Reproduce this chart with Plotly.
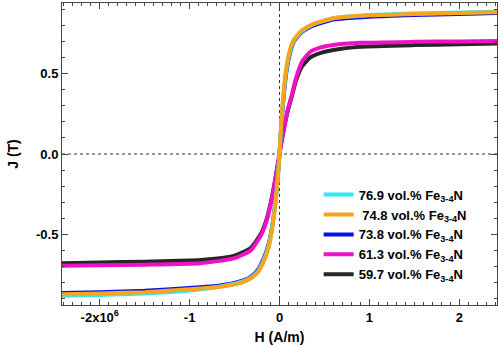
import plotly.graph_objects as go

# H in A/m, J in T
H_hi = [-2.45e6, -2.0e6, -1.5e6, -1.0e6, -0.66e6, -0.45e6, -0.32e6, -0.24e6, -0.18e6, -0.12e6, -0.08e6, -0.044e6, -0.02e6,
        0.0, 0.02e6, 0.05e6, 0.08e6, 0.12e6, 0.16e6, 0.25e6, 0.38e6, 0.6e6, 1.0e6, 1.5e6, 2.0e6, 2.45e6]

J_cyan = [-0.882, -0.877, -0.868, -0.850, -0.825, -0.800, -0.770, -0.730, -0.665, -0.570, -0.450, -0.290, -0.150,
          0.0, 0.190, 0.400, 0.540, 0.645, 0.705, 0.765, 0.808, 0.845, 0.865, 0.875, 0.881, 0.886]
J_orange = [-0.873, -0.868, -0.860, -0.842, -0.826, -0.805, -0.775, -0.735, -0.675, -0.580, -0.460, -0.300, -0.155,
            0.0, 0.200, 0.410, 0.550, 0.655, 0.712, 0.770, 0.810, 0.845, 0.863, 0.872, 0.878, 0.883]
J_blue = [-0.865, -0.860, -0.852, -0.834, -0.818, -0.795, -0.765, -0.722, -0.655, -0.560, -0.445, -0.288, -0.150,
          0.0, 0.180, 0.380, 0.525, 0.635, 0.700, 0.760, 0.800, 0.837, 0.855, 0.866, 0.872, 0.878]

H_lo = [-2.45e6, -2.0e6, -1.5e6, -0.88e6, -0.51e6, -0.32e6, -0.21e6, -0.14e6, -0.09e6, -0.05e6, -0.02e6,
        0.0, 0.02e6, 0.05e6, 0.09e6, 0.14e6, 0.18e6, 0.25e6, 0.34e6, 0.45e6, 0.6e6, 0.9e6, 1.5e6, 2.0e6, 2.45e6]
J_magenta = [-0.696, -0.693, -0.689, -0.680, -0.650, -0.600, -0.510, -0.410, -0.290, -0.170, -0.070,
             0.0, 0.070, 0.160, 0.270, 0.375, 0.465, 0.575, 0.635, 0.662, 0.679, 0.692, 0.698, 0.701, 0.704]
J_black = [-0.680, -0.676, -0.670, -0.660, -0.635, -0.585, -0.500, -0.400, -0.285, -0.165, -0.068,
           0.0, 0.068, 0.158, 0.265, 0.365, 0.450, 0.545, 0.600, 0.628, 0.648, 0.668, 0.678, 0.683, 0.688]

labels = ["76.9 vol.% Fe<sub>3-4</sub>N", "\u00a074.8 vol.% Fe<sub>3-4</sub>N", "73.8 vol.% Fe<sub>3-4</sub>N",
          "61.3 vol.% Fe<sub>3-4</sub>N", "59.7 vol.% Fe<sub>3-4</sub>N"]
colors = ["#33e8f0", "#f7a51c", "#0a10e8", "#f010c8", "#262626"]

x_tickvals = [-2e6, -1e6, 0, 1e6, 2e6]
x_ticktext = ["-2x10<sup>6</sup>", "-1", "0", "1", "2"]
y_tickvals = [-0.5, 0.0, 0.5]
y_ticktext = ["-0.5", "0.0", "0.5"]

fig = go.Figure()
# drawing order: black, magenta, blue, cyan, orange ; legend order by rank
series = [
    (H_lo, J_black, 4, 5),
    (H_lo, J_magenta, 3, 4),
    (H_hi, J_blue, 2, 3),
    (H_hi, J_cyan, 0, 1),
    (H_hi, J_orange, 1, 2),
]
for hx, jy, idx, rank in series:
    fig.add_trace(go.Scatter(x=hx, y=jy, mode="lines", name=labels[idx],
                             line=dict(color=colors[idx], width=4, shape="spline", smoothing=0.5),
                             legendrank=rank))

fig.add_shape(type="line", x0=0, x1=0, y0=0, y1=1, xref="x", yref="paper",
              line=dict(color="#333", width=1, dash="dot"), layer="below")
fig.add_shape(type="line", x0=0, x1=1, y0=0, y1=0, xref="paper", yref="y",
              line=dict(color="#333", width=1, dash="dot"), layer="below")

axis_common = dict(showgrid=False, zeroline=False, showline=True, linecolor="#444", linewidth=1,
                   ticks="inside", ticklen=6, tickcolor="#444", mirror="allticks",
                   tickfont=dict(family="Liberation Sans, Arial", size=13, color="black", weight="bold"))

fig.update_xaxes(range=[-2.42e6, 2.42e6], tickvals=x_tickvals, ticktext=x_ticktext,
                 minor=dict(dtick=1e5, ticks="inside", ticklen=3, tickcolor="#444"),
                 title=dict(text="H (A/m)", font=dict(family="Liberation Sans, Arial", size=14, color="black", weight="bold"), standoff=8),
                 **axis_common)
fig.update_yaxes(range=[-0.94, 0.94], tickvals=y_tickvals, ticktext=y_ticktext,
                 minor=dict(dtick=0.1, ticks="inside", ticklen=3, tickcolor="#444"),
                 title=dict(text="J (T)", font=dict(family="Liberation Sans, Arial", size=14, color="black", weight="bold"), standoff=14),
                 **axis_common)

fig.update_layout(
    width=498, height=345,
    margin=dict(l=62, r=1, t=3, b=40),
    paper_bgcolor="white", plot_bgcolor="white",
    legend=dict(x=0.59, y=0.415, xanchor="left", yanchor="top", bgcolor="rgba(0,0,0,0)",
                font=dict(family="Liberation Sans, Arial", size=13, color="black", weight="bold"),
                itemwidth=30, tracegroupgap=0),
    showlegend=True,
)

fig.write_html("out.html", config={"displayModeBar": False},
               post_script="document.body.style.margin='0';document.body.style.overflow='hidden';")
